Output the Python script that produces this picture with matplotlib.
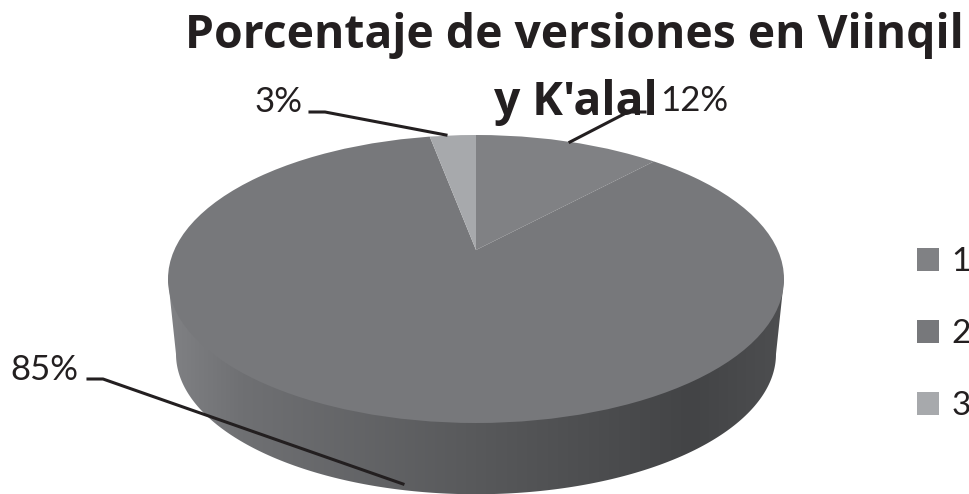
import numpy as np
import matplotlib
matplotlib.use("Agg")
import matplotlib.pyplot as plt
from matplotlib.patches import Polygon, Circle
from matplotlib.colors import LinearSegmentedColormap

title_lines = ["Porcentaje de versiones en Viinqil", "y K'alal"]
categories = ["1", "2", "3"]
shares = [12, 85, 3]
share_labels = ["12%", "85%", "3%"]
colors = ["#808184", "#77787b", "#a7a9ac"]

W, H = 970, 494
S = 144 / 308  # vertical squash of the tilted pie
INK = "#231f20"

fig = plt.figure(figsize=(W / 100, H / 100), dpi=100)
ax = fig.add_axes([0, 0, 1, 1])

def Y(py):
    return (H - py) / S

# side wall: gradient clipped to the hull of the top and bottom rims
t = np.linspace(0, 2 * np.pi, 400)
bot = np.c_[476 + 300 * np.cos(t), Y(354) + 300 * np.sin(t)]
left_edge = [[168, Y(279)], [176, Y(354)]]
right_edge = [[784, Y(279)], [776, Y(354)]]
lower = bot[(t >= np.pi) & (t <= 2 * np.pi)]
wall = np.vstack([left_edge, lower, right_edge[::-1]])

pie_wedges, _ = ax.pie(shares, colors=colors, startangle=90, counterclock=False,
                       center=(476, Y(250)), radius=1000,
                       wedgeprops=dict(linewidth=0))
rim = Circle((476, Y(279)), 308, transform=ax.transData, fc="none", ec="none")
ax.add_patch(rim)
for w in pie_wedges:
    w.set_clip_on(True)
    w.set_clip_path(rim)
    w.set_zorder(3)

cmap = LinearSegmentedColormap.from_list(
    "wall", [(0, "#808184"), (0.12, "#6f7073"), (0.5, "#58595b"),
             (0.85, "#434446"), (1, "#4d4e50")])
grad = np.linspace(0, 1, 256)[None, :]
im = ax.imshow(grad, cmap=cmap, extent=(168, 784, Y(494), Y(279)),
               aspect="auto", zorder=1)
wall_patch = Polygon(wall, closed=True, transform=ax.transData, fc="none", ec="none")
ax.add_patch(wall_patch)
im.set_clip_path(wall_patch)

ax.set_xlim(0, W)
ax.set_ylim(0, H / S)
ax.set_aspect("auto")
ax.axis("off")

# title
for line, (x, py) in zip(title_lines, [(574, 48), (576, 115)]):
    ax.text(x, Y(py), line, ha="center", va="baseline", fontsize=33.3,
            fontweight="bold", family="Open Sans", color=INK, zorder=6)

# leader lines and labels
leaders = {
    "12%": ([645, 628, 570], [112, 112, 142], (660, 111), "left"),
    "85%": ([88, 103, 403], [379, 379, 484], (78, 380), "right"),
    "3%": ([310, 325, 446], [112, 112, 135], (303, 112), "right"),
}
for lab in share_labels:
    xs, ys, (tx, ty), ha = leaders[lab]
    ax.plot(xs, [Y(v) for v in ys], color=INK, lw=2.2, zorder=5)
    ax.text(tx, Y(ty), lab, ha=ha, va="baseline", fontsize=25, family="Lato",
            color=INK, zorder=6)

leg = ax.legend(pie_wedges, categories, loc="center left",
                bbox_to_anchor=(917 / W, 1 - 334 / H), frameon=False,
                prop=dict(family="Lato", size=24), labelcolor=INK,
                handlelength=0.66, handleheight=0.66, handletextpad=0.38,
                labelspacing=1.26, borderpad=0, borderaxespad=0)

fig.savefig("out.png", dpi=100)
